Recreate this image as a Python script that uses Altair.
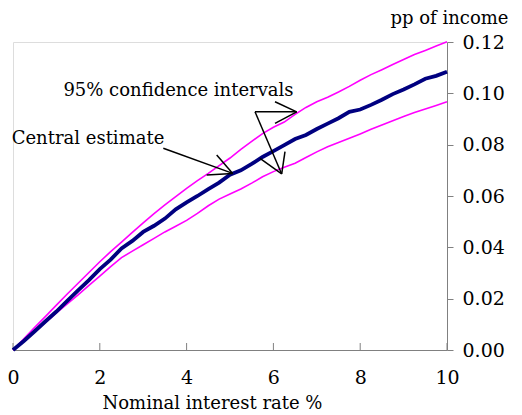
import altair as alt
import pandas as pd

rate = [i * 0.25 for i in range(41)]
central = [0, .0035, .0073, .0112, .0150, .0191, .0232, .0272, .0315, .0352, .0396,
           .0425, .0460, .0484, .0512, .0548, .0575, .0600, .0627, .0652, .0683,
           .0700, .0725, .0752, .0775, .0798, .0822, .0838, .0861, .0882, .0903,
           .0928, .0937, .0955, .0975, .0997, .1015, .1035, .1057, .1068, .1084]
upper = [0, .0044, .0088, .0131, .0175, .0218, .0260, .0302, .0344, .0383, .0420,
         .0458, .0495, .0531, .0565, .0598, .0630, .0660, .0688, .0718, .0748,
         .0782, .0813, .0843, .0868, .0888, .0918, .0945, .0967, .0985, .1005,
         .1027, .1051, .1073, .1092, .1112, .1132, .1151, .1167, .1184, .1201]
lower = [0, .0036, .0072, .0108, .0145, .0180, .0215, .0252, .0288, .0325, .0360,
         .0385, .0410, .0435, .0460, .0482, .0505, .0532, .0562, .0588, .0608,
         .0627, .0650, .0675, .0695, .0712, .0728, .0750, .0772, .0792, .0808,
         .0825, .0842, .0860, .0877, .0893, .0910, .0925, .0939, .0953, .0967]

x_ticks = [0, 2, 4, 6, 8, 10]
y_ticks = [0, 0.02, 0.04, 0.06, 0.08, 0.10, 0.12]

# annotation arrows (segments in data units)
arrow_x = [3.463, 5.062, 5.062, 5.576, 5.576, 6.537, 6.537, 6.191, 6.191]
arrow_y = [0.0786, 0.0688, 0.0688, 0.0928, 0.0928, 0.0928, 0.0928, 0.0686, 0.0686]
arrow_x2 = [5.062, 4.694, 4.463, 6.537, 6.191, 6.037, 6.037, 5.691, 6.267]
arrow_y2 = [0.0688, 0.0760, 0.0682, 0.0928, 0.0686, 0.0967, 0.0883, 0.0747, 0.0773]

labels = ["95% confidence intervals", "Central estimate"]
label_x = [3.813, 1.728]
label_y = [0.0990, 0.0803]

FONT = "DejaVu Serif"
FS = 19
FS_ANN = 18

df_c = pd.DataFrame({"rate": rate, "value": central})
df_b = pd.concat([
    pd.DataFrame({"rate": rate, "value": upper, "series": "upper"}),
    pd.DataFrame({"rate": rate, "value": lower, "series": "lower"}),
])
df_a = pd.DataFrame({"x": arrow_x, "y": arrow_y, "x2": arrow_x2, "y2": arrow_y2})
df_t = pd.DataFrame({"label": labels, "x": label_x, "y": label_y})
df_tick = pd.DataFrame({"t": x_ticks})

xs = alt.Scale(domain=[0, 10], nice=False, zero=False)
ys = alt.Scale(domain=[0, 0.12], nice=False, zero=False)

xaxis = alt.Axis(values=x_ticks, grid=False, tickSize=0, labelPadding=18,
                 labelFlush=False, domainColor="#808080", labelFont=FONT,
                 labelFontSize=FS, labelColor="black", title="Nominal interest rate %",
                 titleFont=FONT, titleFontSize=FS_ANN, titleFontWeight="normal",
                 titleColor="black", titleX=199, titleY=53, titleBaseline="middle",
                 titleAnchor="start", titleAlign="center")
yaxis = alt.Axis(values=y_ticks, orient="right", format=".2f", grid=False,
                 tickSize=6, tickColor="#808080", domainColor="#808080",
                 labelPadding=9, labelFont=FONT, labelFontSize=FS, labelColor="black",
                 title="pp of income", titleFont=FONT, titleFontSize=FS_ANN,
                 titleFontWeight="normal", titleColor="black", titleAngle=0,
                 titleX=61, titleY=-24, titleAlign="right", titleBaseline="middle",
                 titleAnchor="start")

bounds = alt.Chart(df_b).mark_line(color="#FF00FF", strokeWidth=1.6).encode(
    x=alt.X("rate:Q", scale=xs, axis=xaxis),
    y=alt.Y("value:Q", scale=ys, axis=yaxis),
    detail="series:N",
)
cent = alt.Chart(df_c).mark_line(color="#000080", strokeWidth=3.8).encode(
    x=alt.X("rate:Q", scale=xs),
    y=alt.Y("value:Q", scale=ys),
)
arrows = alt.Chart(df_a).mark_rule(color="black", strokeWidth=1.5).encode(
    x=alt.X("x:Q", scale=xs), y=alt.Y("y:Q", scale=ys),
    x2="x2:Q", y2="y2:Q",
)
texts = alt.Chart(df_t).mark_text(font=FONT, fontSize=FS_ANN, align="center",
                                  baseline="alphabetic", color="black").encode(
    x=alt.X("x:Q", scale=xs), y=alt.Y("y:Q", scale=ys), text="label:N",
)
ticks = alt.Chart(df_tick).mark_rule(color="#808080", strokeWidth=1).encode(
    x=alt.X("t:Q", scale=xs), y=alt.value(308), y2=alt.value(301),
)

chart = alt.layer(ticks, bounds, cent, arrows, texts).properties(
    width=434, height=308,
    autosize=alt.AutoSizeParams(type="none"),
    padding={"left": 5, "top": 34, "right": 65, "bottom": 66},
).configure_view(stroke=None).configure(background="white")

chart.save("out.html", embed_options={"renderer": "svg", "actions": False})
